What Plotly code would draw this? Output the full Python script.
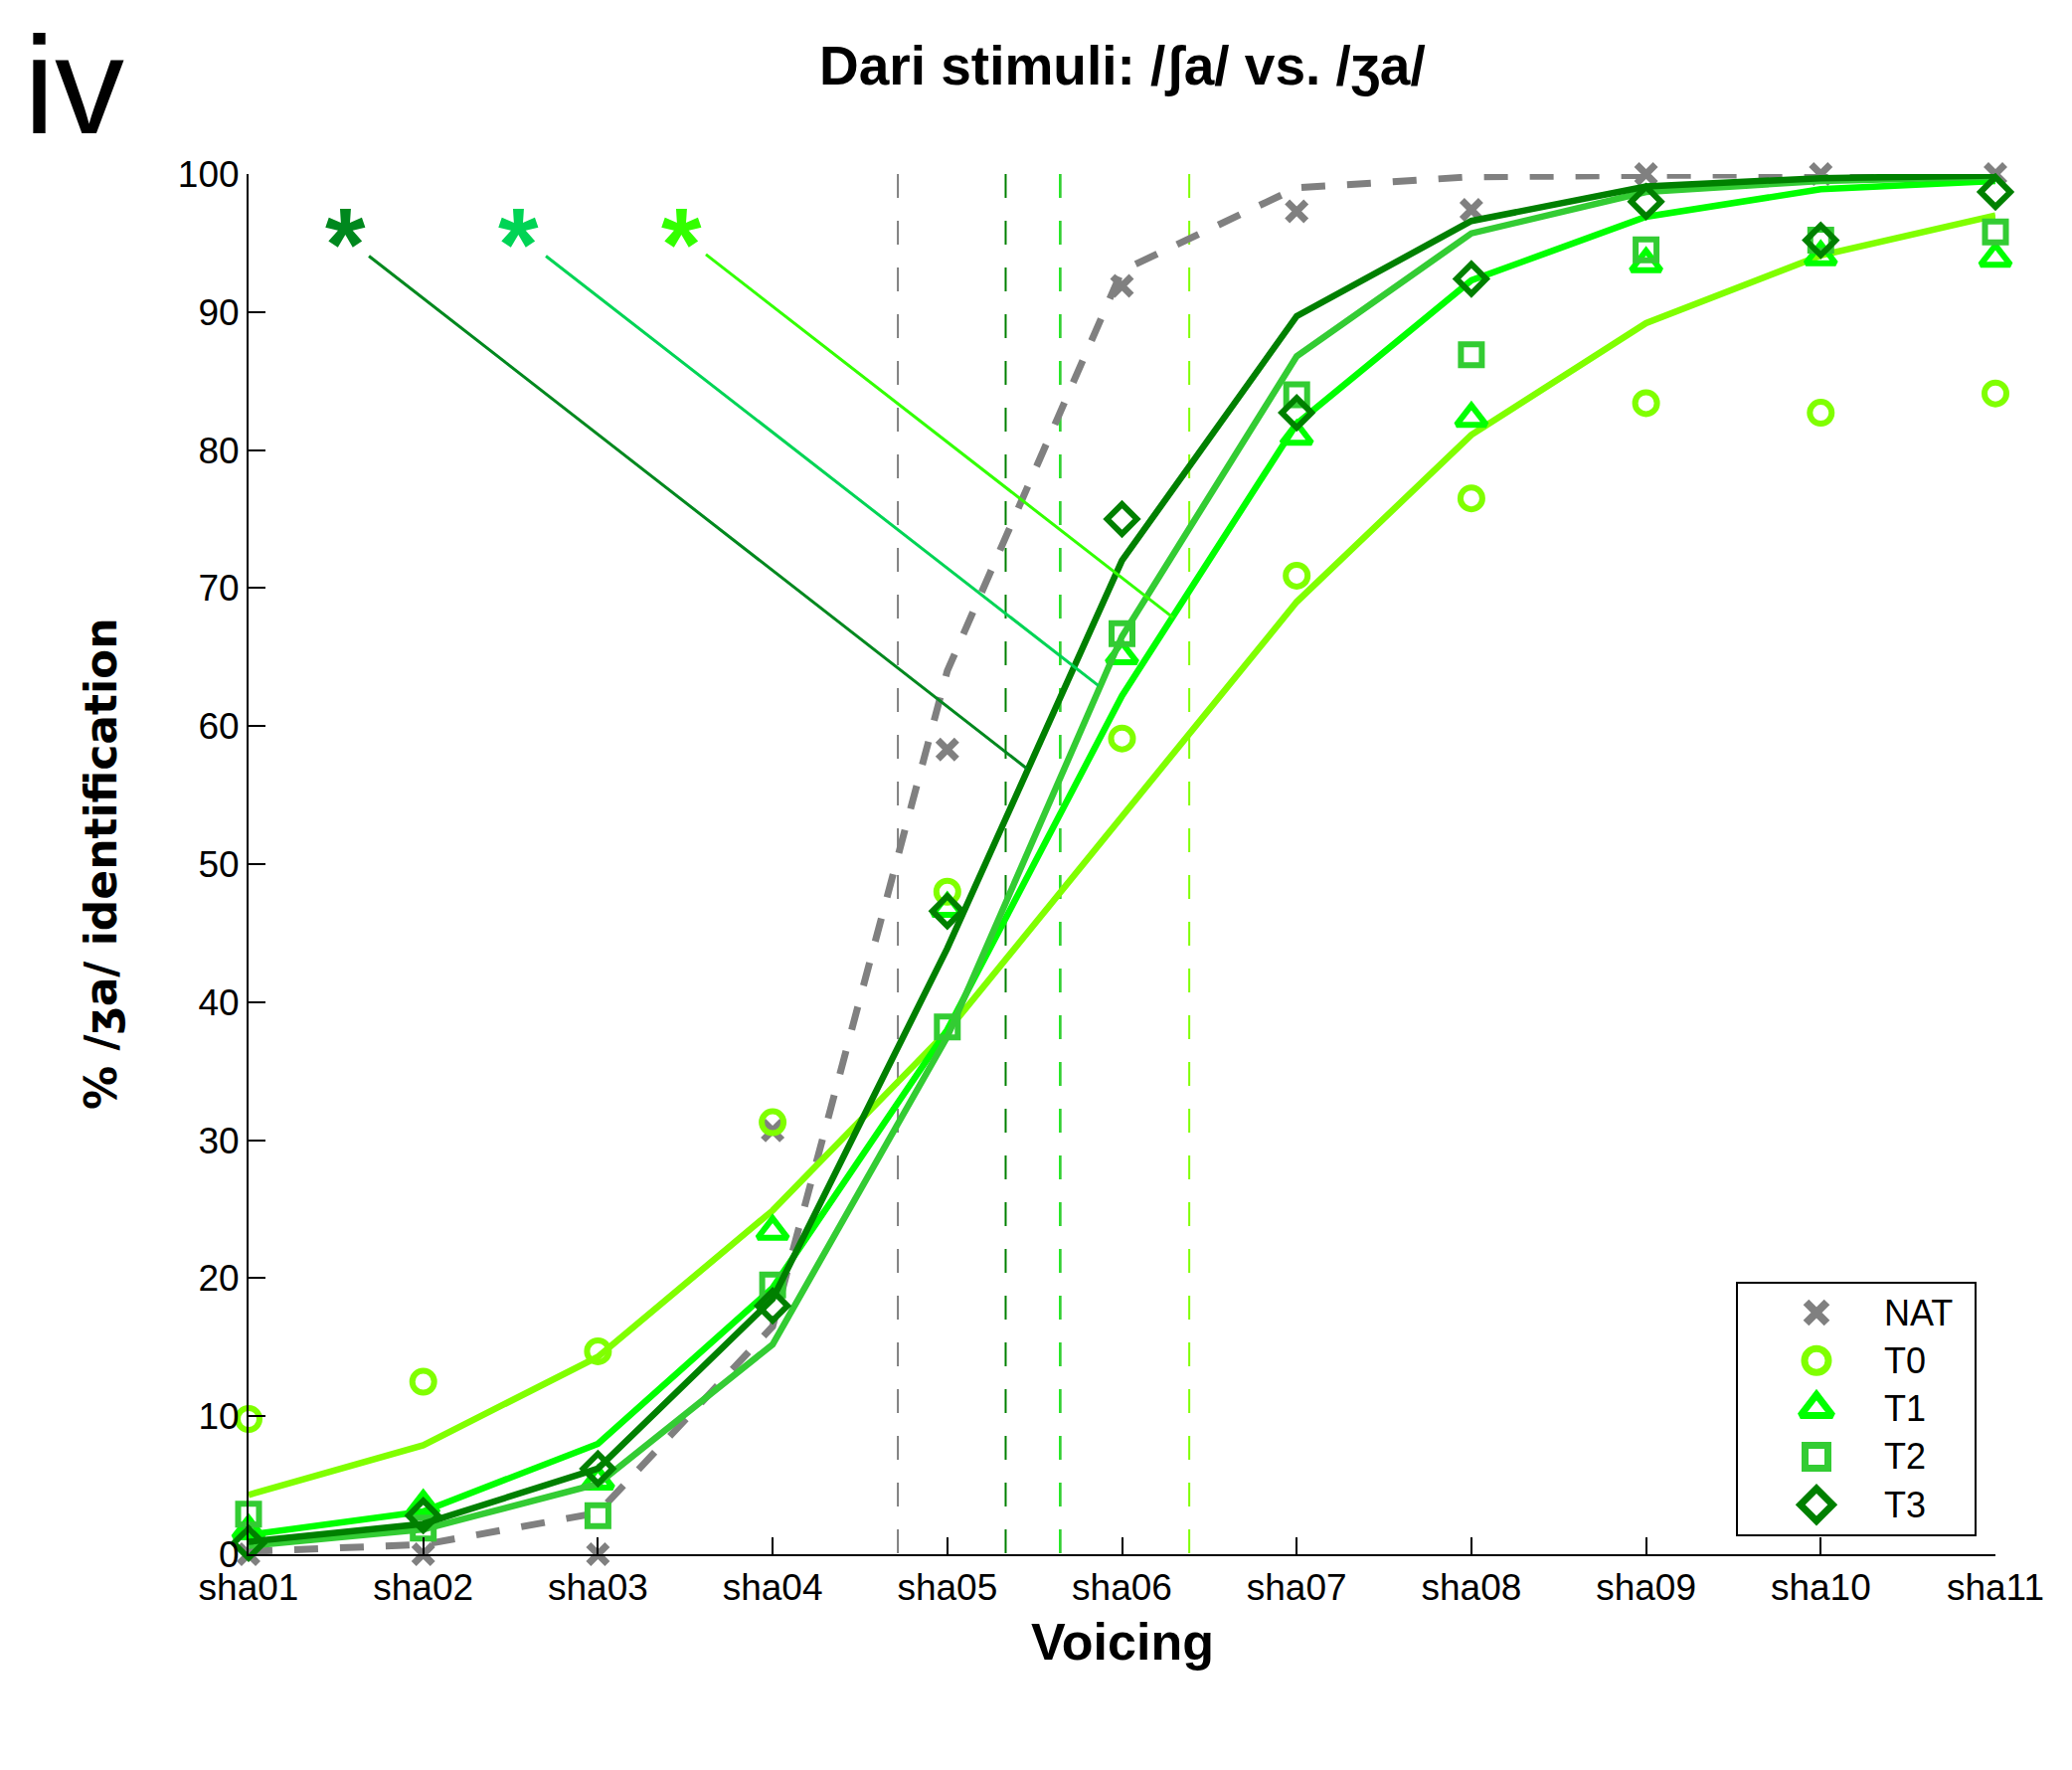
import plotly.graph_objects as go

# ---------------- data ----------------
stimuli = ["sha01", "sha02", "sha03", "sha04", "sha05", "sha06",
           "sha07", "sha08", "sha09", "sha10", "sha11"]
steps = list(range(1, len(stimuli) + 1))

series_names = ["NAT", "T0", "T1", "T2", "T3"]

nat_obs = [0.0, 0.0, 0.0, 30.7, 58.3, 91.9, 97.3, 97.4, 100.0, 100.0, 100.0]
nat_fit = [0.2, 0.7, 3.0, 16.5, 64.0, 93.0, 99.0, 99.8, 99.9, 100.0, 100.0]

t0_obs = [9.8, 12.5, 14.7, 31.3, 48.0, 59.1, 70.9, 76.5, 83.4, 82.7, 84.1]
t0_fit = [4.3, 7.9, 14.3, 24.9, 37.9, 53.5, 69.0, 81.1, 89.2, 94.1, 97.0]

t1_obs = [1.7, 3.5, 5.3, 23.4, 46.8, 65.1, 81.0, 82.3, 93.5, 94.0, 93.9]
t1_fit = [1.4, 3.1, 8.0, 19.3, 38.0, 62.2, 81.9, 92.3, 96.9, 98.9, 99.5]

t2_obs = [2.9, 1.9, 2.8, 19.5, 38.2, 66.7, 84.0, 86.9, 94.5, 95.2, 95.8]
t2_fit = [0.6, 1.8, 5.1, 15.2, 37.5, 66.5, 86.8, 95.7, 98.7, 99.5, 99.8]

t3_obs = [0.8, 2.8, 6.2, 18.0, 46.6, 75.0, 82.7, 92.4, 98.0, 95.2, 98.7]
t3_fit = [0.9, 2.2, 6.2, 18.5, 43.9, 72.0, 89.7, 96.6, 99.1, 99.7, 99.9]

# 50% category boundaries (stimulus step units)
boundaries = [4.717, 6.385, 5.645, 5.648, 5.334]

# significance markers and their connector lines
sig_labels = ["*", "*", "*"]
sig_x = [1.553, 2.544, 3.480]
sig_y = [96.2, 96.2, 96.2]
link_x0 = [1.689, 2.702, 3.618]
link_y0 = [94.06, 94.06, 94.17]
link_x1 = [5.456, 5.866, 6.293]
link_y1 = [56.92, 62.92, 67.86]

y_ticks = list(range(0, 101, 10))

# ---------------- styles ----------------
obs = [nat_obs, t0_obs, t1_obs, t2_obs, t3_obs]
fits = [nat_fit, t0_fit, t1_fit, t2_fit, t3_fit]
colors = ["#808080", "#80FF00", "#00FF00", "#33CC33", "#008000"]
symbols = ["x-thin", "circle-open", "triangle-up-open", "square-open", "diamond-open"]
msizes = [19, 22, 26, 21, 23]
mline = [7, 6, 6, 6, 6]
sig_colors = ["#00881E", "#00D455", "#33FF00"]

FONT = "Liberation Sans, Arial, Helvetica, sans-serif"

fig = go.Figure()

for name, o, f, c, s, ms, lw in zip(series_names, obs, fits, colors, symbols, msizes, mline):
    fig.add_trace(go.Scatter(
        x=steps, y=f, mode="lines", showlegend=False,
        line=dict(color=c, width=7 if name == "NAT" else 6.5,
                  dash="24px,22px" if name == "NAT" else "solid"),
        hoverinfo="skip"))
    fig.add_trace(go.Scatter(
        x=steps, y=o, mode="markers", name=name, showlegend=False,
        cliponaxis=False,
        marker=dict(symbol=s, size=ms, color=c, line=dict(color=c, width=lw))))

# vertical boundary lines
for b, c in zip(boundaries, colors):
    fig.add_shape(type="line", xref="x", yref="y", x0=b, x1=b, y0=100, y1=0,
                  line=dict(color=c, width=2, dash="24px,23px"), layer="below")

# significance connectors and asterisks
for lx0, ly0, lx1, ly1, c in zip(link_x0, link_y0, link_x1, link_y1, sig_colors):
    fig.add_shape(type="line", xref="x", yref="y", x0=lx0, y0=ly0, x1=lx1, y1=ly1,
                  line=dict(color=c, width=3), layer="above")
for lab, sx, sy, c in zip(sig_labels, sig_x, sig_y, sig_colors):
    fig.add_annotation(x=sx, y=sy, xref="x", yref="y", text="<b>%s</b>" % lab,
                       showarrow=False, xanchor="center", yanchor="middle",
                       yshift=-18, font=dict(family=FONT, size=104, color=c))

# ---------------- custom legend ----------------
W, H = 2084, 1780
ML, MR, MT, MB = 250, 77, 175, 217
PW, PH = W - ML - MR, H - MT - MB

def px_x(X):
    return (X - ML) / PW

def px_y(Y):
    return (H - MB - Y) / PH

leg_x0, leg_x1 = px_x(1747), px_x(1987)
leg_y0, leg_y1 = px_y(1544), px_y(1290)
fig.add_shape(type="rect", xref="paper", yref="paper", x0=leg_x0, x1=leg_x1,
              y0=leg_y0, y1=leg_y1, line=dict(color="black", width=2),
              fillcolor="white", layer="below")
row_top = px_y(1320)
row_step = 48.3 / PH
mark_x = px_x(1827)
text_x = px_x(1893)
for i, (name, c, s, ms, lw) in enumerate(zip(series_names, colors, symbols, msizes, mline)):
    ry = row_top - i * row_step
    fig.add_trace(go.Scatter(
        x=[mark_x], y=[ry], xaxis="x2", yaxis="y2", mode="markers",
        showlegend=False, cliponaxis=False, hoverinfo="skip",
        marker=dict(symbol=s, size=ms + 2, color=c, line=dict(color=c, width=lw + 1))))
    fig.add_annotation(x=text_x, y=ry, xref="paper", yref="paper", text=name,
                       showarrow=False, xanchor="left", yanchor="middle",
                       font=dict(family=FONT, size=36, color="black"))

# ---------------- text ----------------
fig.add_annotation(x=0.5, y=px_y(66), xref="paper", yref="paper",
                   text="<b>Dari stimuli: /ʃa/ vs. /ʒa/</b>", showarrow=False,
                   xanchor="center", yanchor="middle",
                   font=dict(family=FONT, size=55, color="black"))
fig.add_annotation(x=px_x(22), y=px_y(85), xref="paper", yref="paper",
                   text="iv", showarrow=False, xanchor="left", yanchor="middle",
                   font=dict(family=FONT, size=140, color="black"))
fig.add_annotation(x=0.5, y=px_y(1651), xref="paper", yref="paper",
                   text="<b>Voicing</b>", showarrow=False,
                   xanchor="center", yanchor="middle",
                   font=dict(family=FONT, size=52, color="black"))
fig.add_annotation(x=px_x(101), y=0.5, xref="paper", yref="paper",
                   text="<b>% /ʒa/ identification</b>", showarrow=False, textangle=-90,
                   xanchor="center", yanchor="middle",
                   font=dict(family="DejaVu Sans, sans-serif", size=44, color="black"))

fig.update_layout(
    width=W, height=H,
    margin=dict(l=ML, r=MR, t=MT, b=MB, pad=0),
    paper_bgcolor="white", plot_bgcolor="white",
    showlegend=False,
    font=dict(family=FONT, color="black"),
    xaxis=dict(range=[1, 11], tickvals=steps, ticktext=stimuli,
               showline=True, linecolor="black", linewidth=2,
               ticks="inside", ticklen=17, tickwidth=2, tickcolor="black",
               showgrid=False, zeroline=False,
               tickfont=dict(family=FONT, size=37, color="black")),
    yaxis=dict(range=[0, 100], tickvals=y_ticks,
               showline=True, linecolor="black", linewidth=2,
               ticks="inside", ticklen=17, tickwidth=2, tickcolor="black",
               showgrid=False, zeroline=False,
               tickfont=dict(family=FONT, size=37, color="black")),
    xaxis2=dict(overlaying="x", range=[0, 1], visible=False, fixedrange=True),
    yaxis2=dict(overlaying="y", range=[0, 1], visible=False, fixedrange=True),
)

fig.write_html("out.html")
